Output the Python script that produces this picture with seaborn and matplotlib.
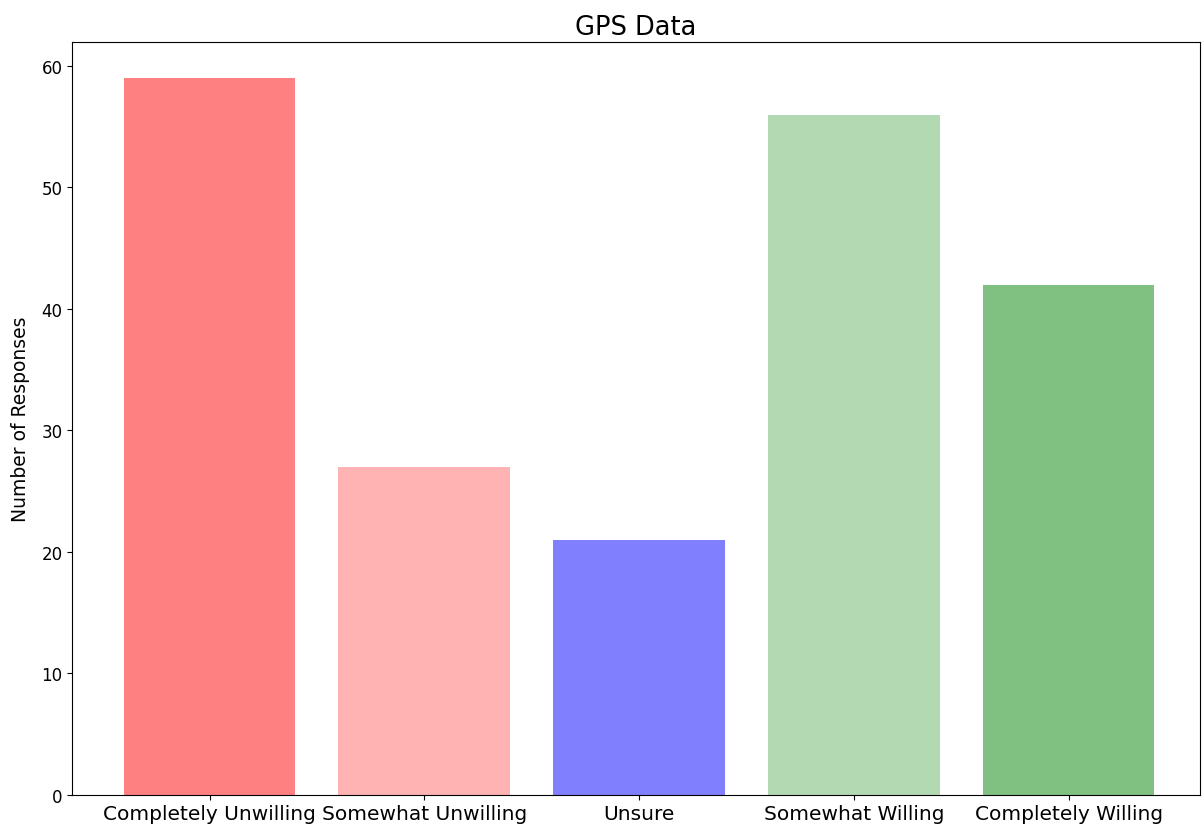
import matplotlib
matplotlib.use("Agg")
from matplotlib import pyplot as plt
import pandas as pd
import seaborn as sns

categories = ['Completely Unwilling', 'Somewhat Unwilling', 'Unsure',
              'Somewhat Willing', 'Completely Willing']
responses = [59, 27, 21, 56, 42]
bar_colors = ['#ff8080', '#ffb3b3', '#8080ff', '#b3d9b3', '#80c080']

df = pd.DataFrame({'Response': categories, 'Count': responses})

f = plt.figure(figsize=(12.02, 8.29), dpi=100)
ax = f.add_axes([0.06, 0.0398, 0.938, 0.908])
sns.barplot(data=df, x='Response', y='Count', hue='Response',
            palette=dict(zip(categories, bar_colors)), saturation=1,
            width=0.8, legend=False, ax=ax)
ax.set_xlim(-0.64, 4.61)
ax.set_ylim(0, 61.95)
ax.set_title('GPS Data', fontsize=18.5)
ax.set_ylabel('Number of Responses', fontsize=13.5, labelpad=8)
ax.set_xlabel('')
ax.tick_params(axis='x', labelsize=14.5, pad=3)
ax.tick_params(axis='y', labelsize=12)
f.savefig('out.png', dpi=100)
